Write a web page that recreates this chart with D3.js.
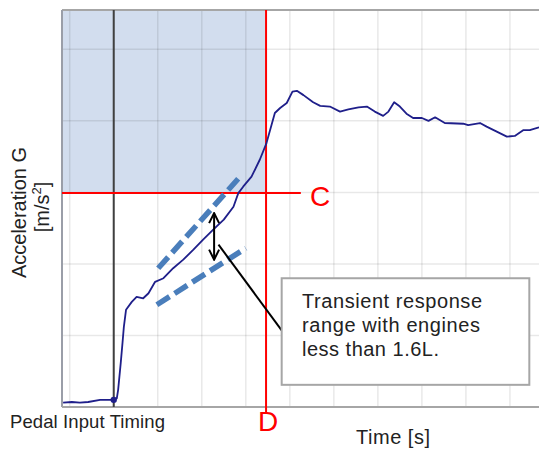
<!DOCTYPE html>
<html>
<head>
<meta charset="utf-8">
<script src="https://cdn.jsdelivr.net/npm/d3@7"></script>
<style>
  html, body { margin: 0; padding: 0; background: #fff; }
  svg { display: block; }
  text { font-family: "Liberation Sans", Arial, sans-serif; }
</style>
</head>
<body>
<svg id="chart" width="539" height="455"></svg>
<script>
// ---- data (time in grid units, acceleration in grid units) ----
const timeVals = [-0.15,0.05,0.23,0.42,0.69,0.99,1.07,1.10,1.16,1.20,1.23,1.28,1.41,1.52,1.67,1.79,1.94,2.13,2.35,2.58,2.81,3.03,3.26,3.50,3.72,3.83,3.94,4.13,4.32,4.47,4.66,4.78,4.93,5.06,5.16,5.31,5.53,5.69,5.91,6.14,6.33,6.56,6.75,6.93,7.12,7.24,7.37,7.50,7.65,7.80,8.00,8.15,8.30,8.52,8.94,9.05,9.32,9.47,9.70,9.93,10.11,10.30,10.45,10.66];
const accelVals = [0.06,0.07,0.06,0.07,0.10,0.10,0.12,0.24,0.62,0.90,1.12,1.36,1.47,1.54,1.52,1.59,1.75,1.80,1.94,2.06,2.20,2.34,2.48,2.62,2.80,2.99,3.08,3.22,3.46,3.69,4.11,4.18,4.25,4.41,4.42,4.36,4.26,4.21,4.20,4.13,4.16,4.19,4.20,4.13,4.07,4.13,4.26,4.20,4.10,4.04,4.04,4.00,4.05,3.97,3.96,3.94,3.97,3.92,3.85,3.78,3.79,3.87,3.87,3.91];
const gridTimes = [0,1,2,3,4,5,6,7,8,9,10];
const gridAccels = [1,2,3,4,5];
const pedalTime = 1.0;
const pedalAccel = 0.10;
const limitTimeD = 4.46;
const limitAccelC = 2.99;
const upperDash = [[2.01,1.94],[3.87,3.22]];
const lowerDash = [[1.98,1.43],[4.00,2.22]];
const rangeArrow = [[3.28,2.71],[3.28,2.06]];
const leader = [[3.38,2.27],[4.84,1.05]];
const noteBox = {t0:4.815, t1:10.44, a0:1.80, a1:0.31};
const noteLines = ["Transient response","range with engines","less than 1.6L."];

(function () {
// ---- layout ----
const pL = 62, pR = 539, pT = 10, pB = 407;
const svg = d3.select("#chart");
const x = d3.scaleLinear().domain([-0.175, 10.66]).range([pL, pR]);
const y = d3.scaleLinear().domain([0, 5.55]).range([pB, pT]);

// shaded region
svg.append("rect")
  .attr("x", x(-0.175)).attr("y", y(5.55))
  .attr("width", x(limitTimeD) - x(-0.175))
  .attr("height", y(limitAccelC) - y(5.55))
  .attr("fill", "#d2ddee");

// grid
svg.append("g").selectAll("line").data(gridTimes).join("line")
  .attr("x1", d => x(d)).attr("x2", d => x(d))
  .attr("y1", pT).attr("y2", pB)
  .attr("stroke", "#000").attr("stroke-opacity", 0.09).attr("stroke-width", 1.5);
svg.append("g").selectAll("line").data(gridAccels).join("line")
  .attr("x1", pL).attr("x2", pR)
  .attr("y1", d => y(d)).attr("y2", d => y(d))
  .attr("stroke", "#000").attr("stroke-opacity", 0.09).attr("stroke-width", 1.5);

// frame
svg.append("line").attr("x1", pL).attr("x2", pR).attr("y1", pT).attr("y2", pT)
  .attr("stroke", "#a6a6a6").attr("stroke-width", 2);
svg.append("line").attr("x1", pL).attr("x2", pL).attr("y1", pT).attr("y2", pB)
  .attr("stroke", "#9a9ea8").attr("stroke-width", 2);
svg.append("line").attr("x1", pL).attr("x2", pR).attr("y1", pB).attr("y2", pB)
  .attr("stroke", "#a6a6a6").attr("stroke-width", 2);

// pedal input vertical line
svg.append("line").attr("x1", x(pedalTime)).attr("x2", x(pedalTime))
  .attr("y1", pT).attr("y2", pB)
  .attr("stroke", "#404040").attr("stroke-width", 2);

// red limit lines
svg.append("line").attr("x1", x(limitTimeD)).attr("x2", x(limitTimeD))
  .attr("y1", pT).attr("y2", 412)
  .attr("stroke", "#ff0000").attr("stroke-width", 2);
svg.append("line").attr("x1", pL).attr("x2", x(5.25))
  .attr("y1", y(limitAccelC)).attr("y2", y(limitAccelC))
  .attr("stroke", "#ff0000").attr("stroke-width", 2);

// dashed tangent lines
const lineGen = d3.line().x(d => x(d[0])).y(d => y(d[1]));
[upperDash, lowerDash].forEach(seg => {
  svg.append("path").attr("d", lineGen(seg))
    .attr("fill", "none").attr("stroke", "#4a7ebb")
    .attr("stroke-width", 5.5).attr("stroke-dasharray", "15,6");
});

// data curve
const pts = timeVals.map((t, i) => [t, accelVals[i]]);
svg.append("path").attr("d", lineGen(pts))
  .attr("fill", "none").attr("stroke", "#1f1f8a").attr("stroke-width", 1.8)
  .attr("stroke-linejoin", "round");
svg.append("circle").attr("cx", x(pedalTime)).attr("cy", y(pedalAccel)).attr("r", 3.2)
  .attr("fill", "#1f1f8a");

// double arrow
const defs = svg.append("defs");
defs.append("marker").attr("id", "vhead").attr("viewBox", "0 0 12 12")
  .attr("refX", 11).attr("refY", 6).attr("markerWidth", 12).attr("markerHeight", 12)
  .attr("markerUnits", "userSpaceOnUse").attr("orient", "auto-start-reverse")
  .append("path").attr("d", "M1,1 L11,6 L1,11").attr("fill", "none")
  .attr("stroke", "#000").attr("stroke-width", 2);
svg.append("path").attr("d", lineGen(rangeArrow))
  .attr("stroke", "#000").attr("stroke-width", 2).attr("fill", "none")
  .attr("marker-start", "url(#vhead)").attr("marker-end", "url(#vhead)");

// leader line
svg.append("path").attr("d", lineGen(leader))
  .attr("stroke", "#000").attr("stroke-width", 2).attr("fill", "none");

// note box
svg.append("rect")
  .attr("x", x(noteBox.t0)).attr("y", y(noteBox.a0))
  .attr("width", x(noteBox.t1) - x(noteBox.t0))
  .attr("height", y(noteBox.a1) - y(noteBox.a0))
  .attr("fill", "#fff").attr("stroke", "#a6a6a6").attr("stroke-width", 2);
const noteLens = [180, 178, 137];
svg.append("g").selectAll("text").data(noteLines).join("text")
  .attr("x", 302).attr("y", (d, i) => 308 + i * 24.2)
  .attr("font-size", 20).attr("fill", "#222")
  .attr("textLength", (d, i) => noteLens[i]).attr("lengthAdjust", "spacing")
  .text(d => d);

// labels
svg.append("text").attr("x", 310).attr("y", 206).attr("font-size", 28)
  .attr("fill", "#ff0000").text("C");
svg.append("text").attr("x", 258).attr("y", 431).attr("font-size", 28)
  .attr("fill", "#ff0000").text("D");

svg.append("text").attr("x", 10).attr("y", 428).attr("font-size", 18.5)
  .attr("fill", "#222").attr("textLength", 155).attr("lengthAdjust", "spacing")
  .text("Pedal Input Timing");
svg.append("text").attr("x", 356).attr("y", 444).attr("font-size", 20)
  .attr("fill", "#222").attr("textLength", 74).attr("lengthAdjust", "spacing")
  .text("Time [s]");

svg.append("text").attr("transform", "translate(26,212.5) rotate(-90)")
  .attr("text-anchor", "middle").attr("font-size", 20).attr("fill", "#222")
  .text("Acceleration G");
const unit = svg.append("text").attr("transform", "translate(49,207) rotate(-90)")
  .attr("text-anchor", "middle").attr("font-size", 20).attr("fill", "#222");
unit.append("tspan").text("[m/s");
unit.append("tspan").attr("font-size", 13).attr("dy", -8).text("2");
unit.append("tspan").attr("dy", 8).text("]");
})();
</script>
</body>
</html>
